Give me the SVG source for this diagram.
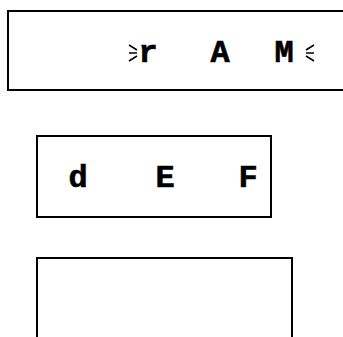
<svg xmlns="http://www.w3.org/2000/svg" width="343" height="337" viewBox="0 0 343 337">
<style>
.box{fill:#fff;stroke:#000;stroke-width:2}
.t{font-family:"Liberation Mono","Courier New",monospace;font-weight:bold;font-size:32px;fill:#000;stroke:#000;stroke-width:0.6;text-anchor:middle}
.mk{stroke:#000;stroke-width:1.5;fill:none}
</style>
<rect width="343" height="337" fill="#fff"/>
<g id="node1">
<rect class="box" x="8" y="11" width="350" height="79"/>
<text class="t" x="148 220 284" y="62">rAM</text>
<path class="mk" d="M129,45 L137,50 M129,53 L137,53 M129,61 L137,56"/>
<path class="mk" d="M314,45 L306,50 M314,53 L306,53 M314,61 L306,56"/>
</g>
<g id="node2">
<rect class="box" x="37" y="136" width="234" height="81"/>
<text class="t" x="78 165 248" y="187">dEF</text>
</g>
<g id="node3">
<rect class="box" x="37" y="258" width="255" height="100"/>
</g>
<g id="connectors"></g>
</svg>
